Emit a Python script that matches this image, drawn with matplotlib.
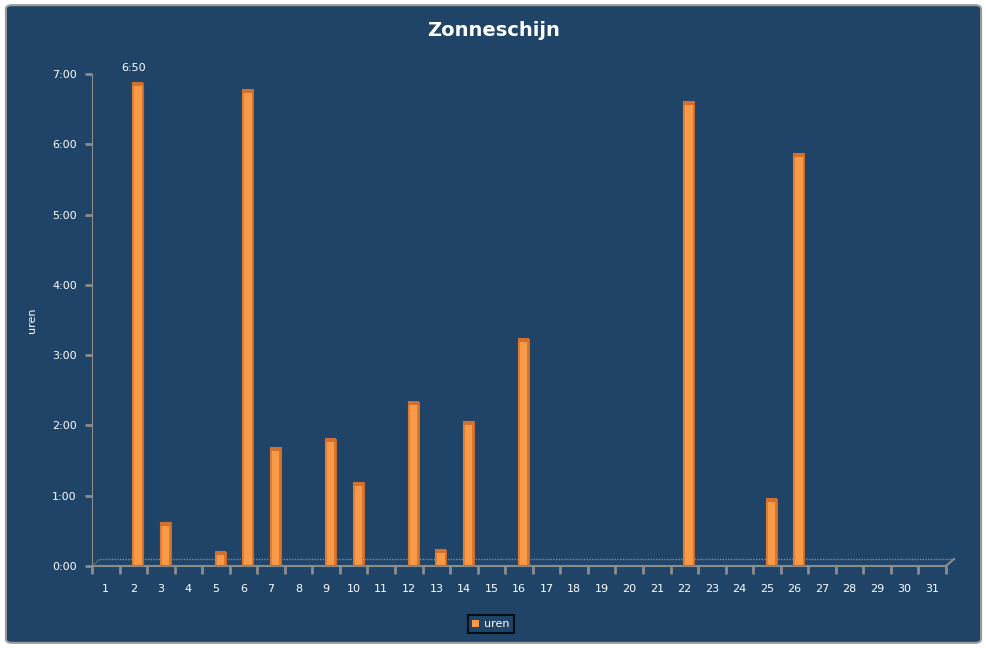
import matplotlib
matplotlib.use("Agg")
import matplotlib.pyplot as plt
from matplotlib.patches import FancyBboxPatch, Rectangle
from matplotlib.ticker import FixedLocator, NullFormatter
import numpy as np

# days of the month and sunshine hours (decimal hours)
days = np.arange(1, 32)
sun_hours = np.zeros(31)
sun_hours[[1, 2, 4, 5, 6, 8, 9, 11, 12, 13, 15, 21, 24, 25]] = [
    6.833, 0.58, 0.16, 6.74, 1.65, 1.77, 1.15, 2.30, 0.19, 2.02, 3.19, 6.57, 0.92, 5.83,
]
y_ticks = np.arange(0, 8)
y_labels = [f"{h}:00" for h in y_ticks]

bg = "#1f4468"
orange = "#f99a48"
dark_orange = "#c8692a"
grid_grey = "#8c8c8c"

fig = plt.figure(figsize=(9.87, 6.48), dpi=100, facecolor="white")
fig.patches.append(FancyBboxPatch((0.006, 0.008), 0.988, 0.984,
                                  boxstyle="round,pad=0,rounding_size=0.006",
                                  transform=fig.transFigure, facecolor=bg,
                                  edgecolor="#9a9a9a", linewidth=1.5, zorder=-5))

ax = fig.add_axes([92 / 987, (648 - 566) / 648, (946 - 92) / 987, (566 - 74) / 648])
ax.set_facecolor("none")
ax.set_xlim(0.5, 31.5)
ax.set_ylim(0, 7)

# floor of the 3D plot (depth offset)
dx, dy = 0.29, 0.1
ax.plot([0.5 + dx, 31.5 + dx], [dy, dy], color=grid_grey, lw=1, ls=(0, (1, 1)), clip_on=False)
ax.plot([0.5, 0.5 + dx], [0, dy], color=grid_grey, lw=1, ls=(0, (1, 1)), clip_on=False)
ax.plot([31.5, 31.5 + dx], [0, dy], color=grid_grey, lw=1.5, clip_on=False)

# cylinder-like bars
w = 0.4
xc = days + 0.16
for x, v in zip(xc, sun_hours):
    if v <= 0:
        continue
    ax.add_patch(Rectangle((x - w / 2, 0.02), w, v - 0.02 + dy * 0.4,
                           facecolor=orange, edgecolor=dark_orange, lw=0.8, zorder=3))
    ax.add_patch(Rectangle((x - w / 2, 0.02), w * 0.18, v - 0.02 + dy * 0.4,
                           facecolor="#e07d33", edgecolor="none", zorder=4))
    ax.add_patch(Rectangle((x + w / 2 - w * 0.15, 0.02), w * 0.15, v - 0.02 + dy * 0.4,
                           facecolor="#d9772f", edgecolor="none", zorder=4))
    ax.add_patch(Rectangle((x - w / 2, v + dy * 0.4 - 0.05), w, 0.06,
                           facecolor="#d2712e", edgecolor="none", zorder=5))

# data label for the maximum
ax.text(xc[1] - 0.15, sun_hours[1] + 0.18, "6:50", color="white", fontsize=8,
        ha="center", va="bottom")

for s in ("top", "right"):
    ax.spines[s].set_visible(False)
ax.spines["left"].set_color(grid_grey)
ax.spines["left"].set_linestyle((0, (1, 1)))
ax.spines["bottom"].set_color(grid_grey)
ax.spines["bottom"].set_linewidth(1.5)

ax.set_yticks(y_ticks)
ax.set_yticklabels(y_labels, color="white", fontsize=8)
ax.tick_params(axis="y", length=5, width=2, color=grid_grey, pad=6)

ax.xaxis.set_major_locator(FixedLocator(np.arange(0.5, 32, 1)))
ax.xaxis.set_major_formatter(NullFormatter())
ax.xaxis.set_minor_locator(FixedLocator(days))
ax.set_xticklabels([str(d) for d in days], minor=True, color="white", fontsize=8)
ax.tick_params(axis="x", which="major", length=6, width=2, color=grid_grey, direction="out")
ax.tick_params(axis="x", which="minor", length=0, pad=13)

ax.set_ylabel("uren", color="white", fontsize=8)
ax.yaxis.set_label_coords((37 - 92) / 854, (566 - 320) / 492)

fig.text(0.5, 1 - 31 / 648, "Zonneschijn", color="white", fontsize=14,
         fontweight="bold", ha="center", va="center")

# legend
leg = fig.legend([Rectangle((0, 0), 1, 1, facecolor=orange, edgecolor="none")], ["uren"],
                 loc="center", bbox_to_anchor=(491 / 987, 1 - 624 / 648),
                 frameon=True, fancybox=False, fontsize=8, handlelength=0.6,
                 handleheight=0.6, handletextpad=0.5, borderpad=0.4,
                 labelcolor="white")
leg.get_frame().set_facecolor(bg)
leg.get_frame().set_edgecolor("black")
leg.get_frame().set_linewidth(1.5)

fig.savefig("out.png", dpi=100, facecolor="white")
